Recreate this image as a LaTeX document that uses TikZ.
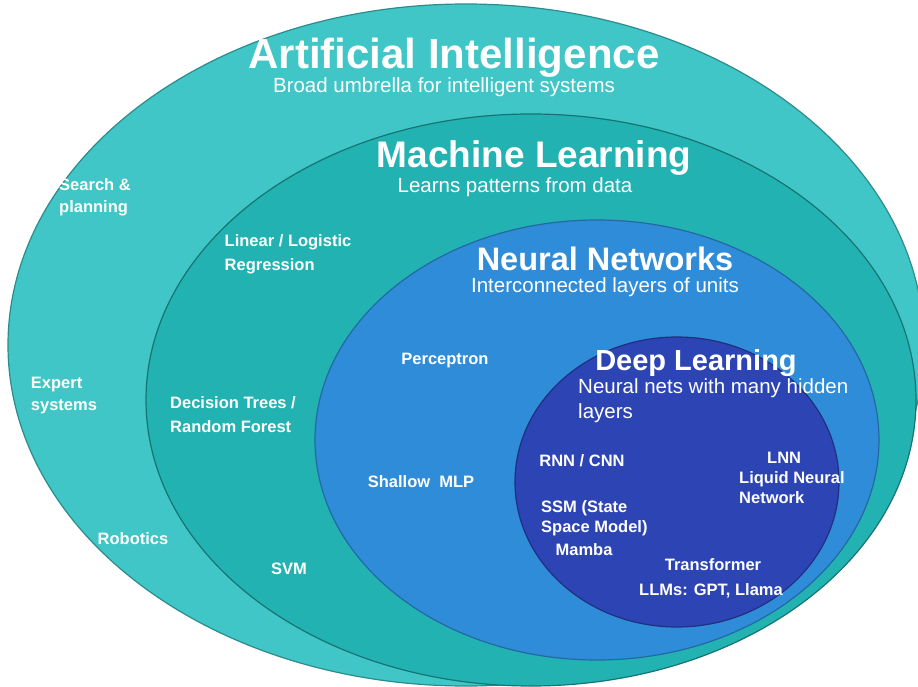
\documentclass[tikz,border=0pt]{standalone}
\usepackage{fontspec}
\setmainfont{Liberation Sans}
\usetikzlibrary{positioning}
\definecolor{aicol}{HTML}{40C6C6}
\definecolor{mlcol}{HTML}{22B2B2}
\definecolor{nncol}{HTML}{2F8CD8}
\definecolor{dlcol}{HTML}{2D44B5}
\begin{document}
\begin{tikzpicture}[x=1pt, y=-1pt,
	title/.style={text=white, font=\bfseries\fontsize{37}{39}\selectfont, inner sep=0},
	sub/.style={text=white, font=\fontsize{20.5}{25}\selectfont, inner sep=0},
	item/.style={text=white, font=\bfseries\fontsize{16.5}{22}\selectfont, align=left, inner sep=0}]
		\useasboundingbox (0,0) rectangle (918,687);
		%rings
			\draw [fill=aicol, draw=aicol!70!black, line width=1.2] (466,345) ellipse [x radius=458, y radius=341];
			\draw [fill=mlcol, draw=mlcol!65!black, line width=1.2] (531,400) ellipse [x radius=385, y radius=286];
			\draw [fill=nncol, draw=nncol!75!black, line width=1.2] (597,440) ellipse [x radius=282, y radius=220];
			\draw [fill=dlcol, draw=dlcol!70!black, line width=1.2] (677,482) ellipse [x radius=162, y radius=145];
		%titles
			\node [title, font=\bfseries\fontsize{42}{44}\selectfont] (ai) at (454,58) {Artificial Intelligence};
			\node [sub] (aisub) at (444,87) {Broad umbrella for intelligent systems};
			\node [title] (ml) at (534,158) {Machine Learning};
			\node [sub] (mlsub) at (515,187) {Learns patterns from data};
			\node [title, font=\bfseries\fontsize{32.5}{34}\selectfont] (nn) at (605,259) {Neural Networks};
			\node [sub] (nnsub) at (605,287) {Interconnected layers of units};
			\node [title, font=\bfseries\fontsize{29}{31}\selectfont] (dl) at (696,363) {Deep Learning};
			\node [sub, anchor=north west, align=left] (dlsub) at (578,378) {Neural nets with many hidden\\layers};
		%items
			\node [item] (search) at (95,197) {Search \&\\planning};
			\node [item] (expert) at (64,396) {Expert\\systems};
			\node [item] (robot) at (133,539) {Robotics};
			\node [item] (linear) at (288,254) {Linear / Logistic\\[2pt] Regression};
			\node [item] (tree) at (233,415) {Decision Trees /\\[2pt]Random Forest};
			\node [item] (svm) at (289,569) {SVM};
			\node [item] (perc) at (445,361) {Perceptron};
			\node [item] (mlp) at (421,482) {Shallow~ MLP};
			\node [item] (rnn) at (582,461) {RNN / CNN};
			\node [item, anchor=north west, font=\bfseries\fontsize{16.5}{20}\selectfont] (ssm) at (541,500) {SSM (State\\Space Model)};
			\node [item] (mamba) at (584,550) {Mamba};
			\node [item, anchor=north west, font=\bfseries\fontsize{16.5}{20}\selectfont] (lnn) at (739,452) {\hspace*{28pt}LNN\\Liquid Neural\\Network};
			\node [item] (trans) at (713,565) {Transformer};
			\node [item] (llm) at (711,591) {LLMs: GPT, Llama};
		\end{tikzpicture}
\end{document}
